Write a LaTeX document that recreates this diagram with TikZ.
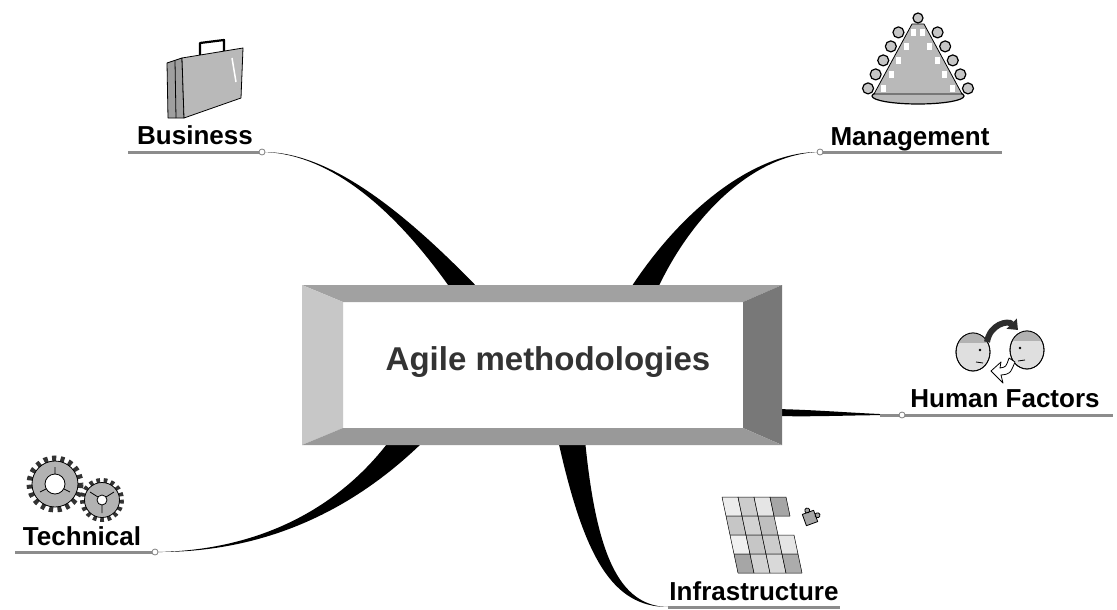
\documentclass[tikz,border=0pt]{standalone}
\usepackage{fontspec}
\setmainfont{Liberation Sans}
\usetikzlibrary{calc,arrows.meta}

\definecolor{bevlight}{gray}{0.78}
\definecolor{bevmid}{gray}{0.63}
\definecolor{bevdark}{gray}{0.47}
\definecolor{stemgray}{gray}{0.55}
\definecolor{titlegray}{gray}{0.2}

\tikzset{
  topic/.style={font=\bfseries\fontsize{26}{26}\selectfont, text=black, inner sep=0pt, anchor=base},
  title/.style={font=\bfseries\fontsize{33}{33}\selectfont, text=titlegray, inner sep=0pt, anchor=base},
  knot/.style={circle, draw=gray, fill=white, minimum size=6pt, inner sep=0pt, line width=0.8pt},
  stem/.style={draw=stemgray, line width=3pt},
  branch/.style={fill=black},
  icon/.style={draw=black, line width=0.8pt, line join=round},
}

\begin{document}
\begin{tikzpicture}[x=1pt,y=-1pt]
\useasboundingbox (0,0) rectangle (1117,610);

% underline ends and knots
\coordinate (bus-l) at (128,152);  \coordinate (bus-k) at (262,152);
\coordinate (man-k) at (820,152);  \coordinate (man-r) at (1002,152);
\coordinate (hum-k) at (902,415);  \coordinate (hum-r) at (1113,415);
\coordinate (inf-k) at (668,607);  \coordinate (inf-r) at (840,607);
\coordinate (tec-l) at (15,552);   \coordinate (tec-k) at (155,552);

% wide ends, hidden under the box
\coordinate (bus-a) at (453,292); \coordinate (bus-b) at (482,292);
\coordinate (man-a) at (628,292); \coordinate (man-b) at (656,292);
\coordinate (hum-a) at (776,409); \coordinate (hum-b) at (776,416);
\coordinate (inf-a) at (558,440); \coordinate (inf-b) at (585,440);
\coordinate (tec-a) at (390,440); \coordinate (tec-b) at (425,440);

% tapered branches
\fill[branch] (bus-k) .. controls (330,151) and (406,213) .. (bus-b) -- (bus-a) .. controls (396,210) and (330,153) .. (bus-k);
\fill[branch] (man-k) .. controls (760,151) and (685,203) .. (man-a) -- (man-b) .. controls (695,207) and (760,153) .. (man-k);
\fill[branch] (hum-a) .. controls (820,410) and (850,413) .. (hum-k) .. controls (850,415) and (820,417) .. (hum-b) -- cycle;
\fill[branch] (inf-a) .. controls (584,557) and (612,607) .. (inf-k) .. controls (618,606) and (596,552) .. (inf-b) -- cycle;
\fill[branch] (tec-k) .. controls (260,551) and (340,507) .. (tec-a) -- (tec-b) .. controls (350,514) and (260,553) .. (tec-k);

% underlines
\draw[stem] (bus-l) -- (bus-k);
\draw[stem] (man-k) -- (man-r);
\draw[stem] (880,415) -- (hum-r);
\draw[stem] (inf-k) -- (inf-r);
\draw[stem] (tec-l) -- (tec-k);
\foreach \k in {bus-k,man-k,hum-k,tec-k}
  \node[knot] at (\k) {};

% central bevelled box
\coordinate (o1) at (302,285); \coordinate (o2) at (782,285);
\coordinate (o3) at (782,445); \coordinate (o4) at (302,445);
\coordinate (i1) at (343,302); \coordinate (i2) at (743,302);
\coordinate (i3) at (743,428); \coordinate (i4) at (343,428);
\fill[white] (i1) rectangle (i3);
\fill[bevmid] (o1) -- (o2) -- (i2) -- (i1) -- cycle;
\fill[bevlight] (o1) -- (i1) -- (i4) -- (o4) -- cycle;
\fill[bevdark] (o2) -- (o3) -- (i3) -- (i2) -- cycle;
\fill[bevmid!95!black] (o4) -- (i4) -- (i3) -- (o3) -- cycle;
\node[title] (agile) at (548,370) {Agile methodologies};

% topics
\node[topic] (business) at (195,144) {Business};
\node[topic] (management) at (910,145) {Management};
\node[topic] (human) at (1005,407) {Human Factors};
\node[topic] (infra) at (754,600) {Infrastructure};
\node[topic] (technical) at (82,545) {Technical};

% briefcase
\filldraw[icon, fill=gray!75] (167,63) -- (182,58) -- (184,118) -- (168,118) -- cycle;
\draw[icon] (175,61) -- (176,118);
\filldraw[icon, fill=gray!55] (182,58) -- (243,48) -- (241,98) -- (184,118) -- cycle;
\draw[white, line width=1.5pt] (232,58) -- (236,82);
\draw[icon, line width=2.2pt] (200,55) -- (200,43) -- (224,40) -- (224,51);

% conference table
\filldraw[icon, line width=1.2pt, fill=gray!55] (918,96) ellipse (46 and 8);
\filldraw[icon, fill=gray!55] (912,24) -- (924,24) -- (962,94) -- (874,94) -- cycle;
\filldraw[icon, line width=1.2pt, fill=gray!45] (918,18) circle (5);
\foreach \t in {0.12,0.32,0.52,0.72,0.92} {
  \filldraw[icon, line width=1.2pt, fill=gray!45] ($(912,24)!\t!(874,94)+(-9,0)$) circle (5.5);
  \filldraw[icon, line width=1.2pt, fill=gray!45] ($(924,24)!\t!(962,94)+(9,0)$) circle (5.5);
  \fill[white] ($(912,24)!\t!(874,94)+(4,-3)$) rectangle ++(5,7);
  \fill[white] ($(924,24)!\t!(962,94)+(-9,-3)$) rectangle ++(5,7);
}

% two faces and arrows
\filldraw[icon, fill=gray!25] (973,352) ellipse (17 and 19);
\filldraw[icon, fill=gray!25] (1027,350) ellipse (17 and 19);
\begin{scope}
  \clip (973,352) ellipse (17 and 19);
  \fill[gray!60] (950,325) rectangle (995,343);
\end{scope}
\begin{scope}
  \clip (1027,350) ellipse (17 and 19);
  \fill[gray!60] (1005,325) rectangle (1050,341);
\end{scope}
\draw[icon] (973,352) ellipse (17 and 19) (1027,350) ellipse (17 and 19);
\fill (980,350) circle (1.4) (1020,348) circle (1.4);
\draw[icon] (976,362) -- (983,363) (1018,361) -- (1025,360);
\draw[gray!35!black, line width=6pt, -{Triangle[length=9pt,width=14pt]}] (987,342) .. controls (990,324) and (1008,320) .. (1018,330);
\filldraw[icon, fill=white] (1015,362) .. controls (1010,374) .. (1001,375) -- (1003,383) -- (991,371) -- (1001,362) -- (1000,368) .. controls (1006,367) .. (1009,358) -- cycle;

% puzzle
\coordinate (pz) at (722,497);
\foreach \i/\j/\s in {0/0/15,1/0/40,2/0/20,3/0/70,
                      0/1/45,1/1/35,2/1/50,
                      0/2/12,1/2/45,2/2/40,3/2/20,
                      0/3/70,1/3/35,2/3/30,3/3/65}
  \filldraw[icon, line width=0.5pt, fill=gray!\s] ($(pz)+\i*(16,0)+\j*(4,19)$) -- ++(16,0) -- ++(4,19) -- ++(-16,0) -- cycle;
\filldraw[icon, fill=gray!70, rotate around={20:(810,518)}] (804,512) rectangle (816,524)
  (810,510) circle (2.5) (818,518) circle (2.5);

% gears
\coordinate (gear1) at (55,484);
\coordinate (gear2) at (102,500);
\draw[gray!40!black, line width=7pt, dash pattern=on 4pt off 4.2pt] (gear1) circle (25);
\filldraw[icon, fill=gray!60] (gear1) circle (23);
\filldraw[icon, fill=white] (gear1) circle (10);
\draw[icon] (gear1) ++(0,-17) -- ++(0,7) (gear1) ++(15,8) -- ++(-6,-3) (gear1) ++(-15,8) -- ++(6,-3);
\draw[gray!40!black, line width=6pt, dash pattern=on 3.5pt off 3.5pt] (gear2) circle (19);
\filldraw[icon, fill=gray!60] (gear2) circle (17.5);
\filldraw[icon, fill=white] (gear2) circle (5);
\draw[icon] (gear2) ++(-12,-8) -- ++(8,5) (gear2) ++(12,-8) -- ++(-8,5) (gear2) ++(0,13) -- ++(0,-8);
\end{tikzpicture}
\end{document}
